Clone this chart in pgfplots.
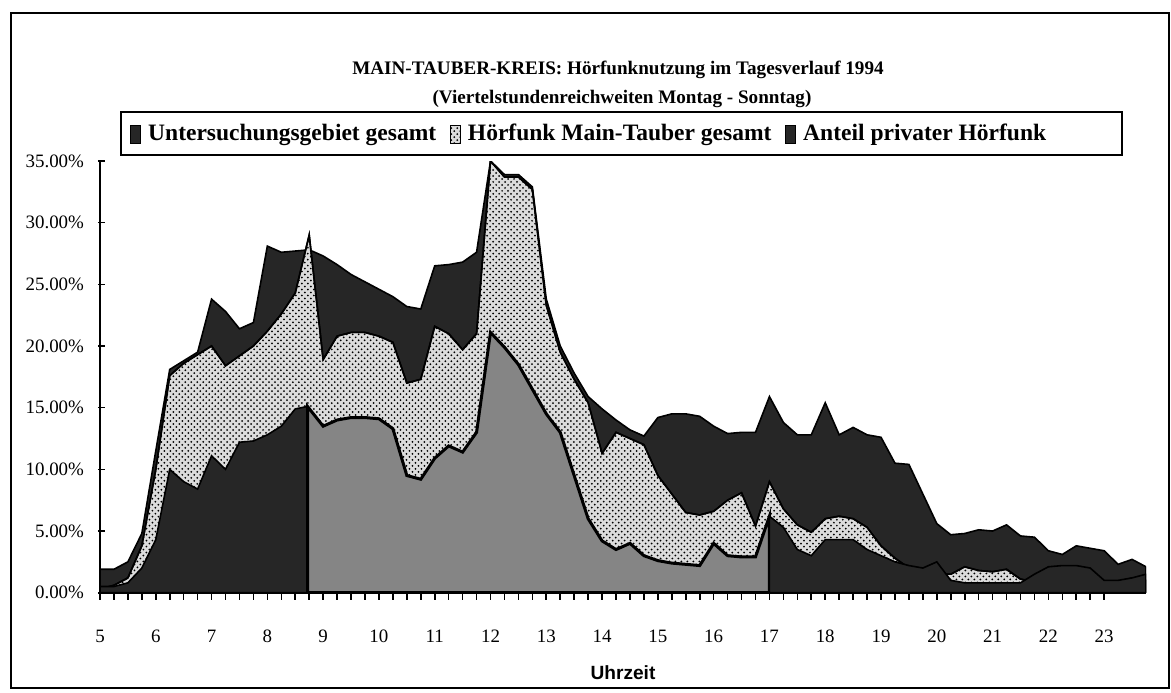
\documentclass[border=0pt]{standalone}
\usepackage{fontspec}
\setmainfont{Liberation Serif}
\newfontfamily\arialfont{Liberation Sans}
\usepackage{pgfplots}
\pgfplotsset{compat=1.18}
\usetikzlibrary{patterns}
\definecolor{dk}{HTML}{262626}
\definecolor{gr}{HTML}{858585}
\definecolor{lt}{HTML}{DCDCDC}
\begin{document}
\begin{tikzpicture}
\path[use as bounding box] (0,0) rectangle (585.5bp,346.5bp);
\draw[line width=1bp] (5.5bp,2.5bp) rectangle (584.5bp,340bp);
\node[font=\fontsize{9.6}{11}\selectfont\bfseries] at (309bp,311.5bp) {MAIN-TAUBER-KREIS: Hörfunknutzung im Tagesverlauf 1994};
\node[font=\fontsize{9.6}{11}\selectfont\bfseries] at (311bp,297bp) {(Viertelstundenreichweiten Montag - Sonntag)};
\draw[line width=0.8bp] (60.5bp,269bp) rectangle (561bp,290.5bp);
\begin{axis}[
  at={(50bp,50.15bp)}, anchor=south west,
  scale only axis, width=523bp, height=215.85bp,
  xmin=5, xmax=23.75, ymin=0, ymax=35,
  axis lines*=left,
  axis line style={line width=1bp},
  every tick/.style={black, line width=0.8bp},
  tick align=outside,
  major tick length=3.5bp, minor tick length=3.5bp,
  ytick style={xshift=2.5bp},
  xtick={5,...,23}, minor x tick num=3,
  ytick={0,5,...,35},
  /pgf/number format/assume math mode=true,
  yticklabel={\pgfmathprintnumber[fixed,fixed zerofill,precision=2]{\tick}\%},
  ticklabel style={font=\fontsize{9.5}{11}\selectfont},
  xticklabel shift=11.5bp,
  yticklabel style={xshift=-1bp},
  xlabel={\arialfont\bfseries Uhrzeit},
  xlabel style={font=\fontsize{9.6}{11}\selectfont, at={(axis description cs:0.5,-0.185)}, anchor=center},
  legend image code/.code={\draw[#1, line width=0.4bp] (0bp,-4.5bp) rectangle (5bp,4.5bp);},
  legend columns=3,
  legend style={draw=none, fill=none, at={(0.0287,1.0625)}, anchor=west, inner sep=0pt,
    font=\fontsize{11.8}{14}\selectfont\bfseries,
    /tikz/every odd column/.append style={column sep=1.5bp},
    /tikz/every even column/.append style={column sep=5bp}},
]
% Untersuchungsgebiet gesamt
\addplot[draw=black, line width=0.8bp, fill=dk] coordinates {
(5.0,1.9) (5.25,1.9) (5.5,2.5) (5.75,4.8) (6.0,11.5) (6.25,18.1) (6.5,18.8) (6.75,19.5)
(7.0,23.8) (7.25,22.8) (7.5,21.4) (7.75,21.9) (8.0,28.1) (8.25,27.6) (8.5,27.7) (8.75,27.8)
(9.0,27.3) (9.25,26.6) (9.5,25.8) (9.75,25.2) (10.0,24.6) (10.25,24.0) (10.5,23.2) (10.75,23.0)
(11.0,26.5) (11.25,26.6) (11.5,26.8) (11.75,27.6) (12.0,35.0) (12.25,33.9) (12.5,33.9) (12.75,32.9)
(13.0,23.8) (13.25,20.0) (13.5,17.8) (13.75,15.9) (14.0,14.9) (14.25,14.0) (14.5,13.2) (14.75,12.7)
(15.0,14.2) (15.25,14.5) (15.5,14.5) (15.75,14.3) (16.0,13.5) (16.25,12.9) (16.5,13.0) (16.75,13.0)
(17.0,15.9) (17.25,13.8) (17.5,12.8) (17.75,12.8) (18.0,15.4) (18.25,12.8) (18.5,13.4) (18.75,12.8)
(19.0,12.6) (19.25,10.5) (19.5,10.4) (19.75,8.0) (20.0,5.6) (20.25,4.7) (20.5,4.8) (20.75,5.1)
(21.0,5.0) (21.25,5.5) (21.5,4.6) (21.75,4.5) (22.0,3.4) (22.25,3.1) (22.5,3.8) (22.75,3.6)
(23.0,3.4) (23.25,2.3) (23.5,2.7) (23.75,2.1)
} \closedcycle;
\addlegendentry{Untersuchungsgebiet gesamt}
% Hoerfunk Main-Tauber gesamt
\addplot[draw=black, line width=0.8bp, fill=lt, postaction={pattern=crosshatch dots, pattern color=black}] coordinates {
(5.0,0.3) (5.25,0.6) (5.5,1.2) (5.75,3.8) (6.0,10.0) (6.25,17.6) (6.5,18.6) (6.75,19.3)
(7.0,20.0) (7.25,18.4) (7.5,19.2) (7.75,20.0) (8.0,21.2) (8.25,22.6) (8.5,24.3) (8.75,29.0)
(9.0,18.9) (9.25,20.8) (9.5,21.1) (9.75,21.1) (10.0,20.8) (10.25,20.3) (10.5,17.0) (10.75,17.3)
(11.0,21.6) (11.25,21.0) (11.5,19.7) (11.75,21.0) (12.0,35.0) (12.25,33.7) (12.5,33.7) (12.75,32.7)
(13.0,23.3) (13.25,19.5) (13.5,17.3) (13.75,15.4) (14.0,11.3) (14.25,13.0) (14.5,12.5) (14.75,12.0)
(15.0,9.5) (15.25,8.0) (15.5,6.5) (15.75,6.3) (16.0,6.6) (16.25,7.5) (16.5,8.1) (16.75,5.4)
(17.0,9.0) (17.25,6.8) (17.5,5.5) (17.75,4.9) (18.0,6.0) (18.25,6.2) (18.5,6.0) (18.75,5.3)
(19.0,3.8) (19.25,2.8) (19.5,2.0) (19.75,1.8) (20.0,1.5) (20.25,1.5) (20.5,2.1) (20.75,1.8)
(21.0,1.7) (21.25,1.9) (21.5,1.1) (21.75,0.9) (22.0,1.5) (22.25,2.0) (22.5,2.1) (22.75,1.8)
(23.0,0.8) (23.25,0.8) (23.5,1.2) (23.75,1.0)
} \closedcycle;
\addlegendentry{Hörfunk Main-Tauber gesamt}
% Anteil privater Hoerfunk (drawn in three shaded stretches as in the print)
\addplot[draw=black, line width=0.8bp, fill=dk] coordinates {
(5.0,0.5) (5.25,0.5) (5.5,0.8) (5.75,2.0) (6.0,4.3) (6.25,10.0) (6.5,9.0) (6.75,8.4)
(7.0,11.1) (7.25,10.0) (7.5,12.2) (7.75,12.3) (8.0,12.8) (8.25,13.5) (8.5,14.9) (8.72,15.1)
} \closedcycle;
\addlegendentry{Anteil privater Hörfunk}
\addplot[forget plot, draw=black, line width=1.5bp, fill=gr] coordinates {
(8.72,15.1) (9.0,13.5) (9.25,14.0) (9.5,14.2) (9.75,14.2) (10.0,14.1) (10.25,13.3) (10.5,9.5)
(10.75,9.2) (11.0,10.9) (11.25,11.9) (11.5,11.4) (11.75,13.0) (12.0,21.1) (12.25,19.9) (12.5,18.5)
(12.75,16.5) (13.0,14.5) (13.25,13.0) (13.5,9.5) (13.75,6.0) (14.0,4.2) (14.25,3.5) (14.5,4.0)
(14.75,3.0) (15.0,2.6) (15.25,2.4) (15.5,2.3) (15.75,2.2) (16.0,4.0) (16.25,3.0) (16.5,2.9)
(16.75,2.9) (17.0,6.2)
} \closedcycle;
\addplot[forget plot, draw=black, line width=0.8bp, fill=dk] coordinates {
(17.0,6.2) (17.25,5.3) (17.5,3.5) (17.75,3.0) (18.0,4.3) (18.25,4.3) (18.5,4.3) (18.75,3.5)
(19.0,3.0) (19.25,2.5) (19.5,2.2) (19.75,2.0) (20.0,2.5) (20.25,1.0) (20.5,0.8) (20.75,0.8)
(21.0,0.8) (21.25,0.8) (21.5,0.8) (21.75,1.5) (22.0,2.1) (22.25,2.2) (22.5,2.2) (22.75,2.0)
(23.0,1.0) (23.25,1.0) (23.5,1.2) (23.75,1.5)
} \closedcycle;
\end{axis}
\end{tikzpicture}
\end{document}
